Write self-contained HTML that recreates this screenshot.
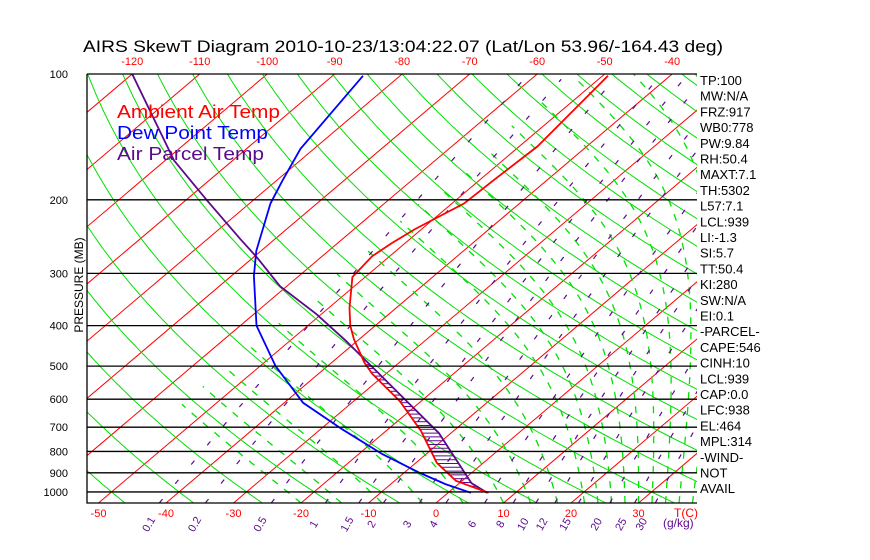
<!DOCTYPE html>
<html><head><meta charset="utf-8"><style>
body{margin:0;background:#fff}
svg{display:block}
text{font-family:"Liberation Sans",sans-serif}
</style></head><body>
<svg id="c" width="870" height="560" viewBox="0 0 870 560" xmlns="http://www.w3.org/2000/svg">
<defs><clipPath id="pc"><rect x="87" y="74" width="610" height="429"/></clipPath></defs>
<text x="83" y="52" font-size="17" textLength="640" lengthAdjust="spacingAndGlyphs">AIRS SkewT Diagram 2010-10-23/13:04:22.07 (Lat/Lon 53.96/-164.43 deg)</text>
<g id="grid" clip-path="url(#pc)"></g>
<g id="marks" clip-path="url(#pc)"></g>
<g id="axes"></g>
<text x="117" y="118" font-size="18" fill="#ff0000" textLength="163" lengthAdjust="spacingAndGlyphs">Ambient Air Temp</text>
<text x="117" y="139" font-size="18" fill="#0000ff" textLength="151" lengthAdjust="spacingAndGlyphs">Dew Point Temp</text>
<text x="117" y="160" font-size="18" fill="#5a0a8c" textLength="147" lengthAdjust="spacingAndGlyphs">Air Parcel Temp</text>
<text transform="translate(83,285) rotate(-90)" font-size="12" text-anchor="middle">PRESSURE (MB)</text>
</svg>
<script>
const pressureTicks=[100,200,300,400,500,600,700,800,900,1000];
const topTempTicks=[-120,-110,-100,-90,-80,-70,-60,-50,-40];
const bottomTempTicks=[-50,-40,-30,-20,-10,0,10,20,30];
const mixRatios=[0.1,0.2,0.5,1,1.5,2,3,4,6,8,10,12,15,20,25,30];
const tempP=[1005,941,852,715,606,522,491,431,400,363,306,273,254,235,204,180,149,101];
const tempT=[6.0,-0.9,-6.9,-14.8,-23.2,-32.0,-35.1,-40.8,-43.7,-46.9,-51.9,-52.6,-52.0,-51.0,-48.2,-47.9,-47.3,-49.2];
const dewP=[1005,958,901,812,708,612,500,400,304,265,204,180,151,101];
const dewT=[3.4,-1.9,-7.6,-16.5,-26.8,-37.2,-47.7,-57.6,-66.7,-70.7,-76.9,-79.1,-82.0,-85.5];
const parcelP=[1005,953,723,606,500,435,375,322,275,248,200,161,100];
const parcelT=[5.8,1.8,-11.8,-22.2,-33.5,-41.7,-50.8,-61,-69.4,-75.2,-87,-98.7,-120];
const statLabels=["TP:100","MW:N/A","FRZ:917","WB0:778","PW:9.84","RH:50.4","MAXT:7.1","TH:5302","L57:7.1","LCL:939","LI:-1.3","SI:5.7","TT:50.4","KI:280","SW:N/A","EI:0.1","-PARCEL-","CAPE:546","CINH:10","LCL:939","CAP:0.0","LFC:938","EL:464","MPL:314","-WIND-","NOT","AVAIL"];
const moistStarts=[-20,-14,-8,-2,4,10,14,18,22,24,26,28,30,32,34,36,38,40];

const NS="http://www.w3.org/2000/svg";
const PBOT=100*Math.exp((503-74)/181.5);
function yP(p){return 74+181.5*Math.log(p/100);}
function xT(T,p){return 436+6.75*T+(503-yP(p))*1.18;}
function mk(tag,attrs,parent){const e=document.createElementNS(NS,tag);for(const k in attrs)e.setAttribute(k,attrs[k]);parent.appendChild(e);return e;}
const grid=document.getElementById('grid'),marks=document.getElementById('marks'),axes=document.getElementById('axes');
function pts(arr){return arr.map(a=>a[0].toFixed(1)+','+a[1].toFixed(1)).join(' ');}

for(let T=-170;T<=50;T+=10){
  const l=mk('line',{x1:xT(T,PBOT),y1:yP(PBOT),x2:xT(T,100),y2:yP(100),stroke:'#ff0000','stroke-width':1},grid);
  
  
}
for(let th=-60;th<=220;th+=10){
  const a=[];
  for(let p=PBOT;p>=99;p-=10){a.push([xT((th+273.15)*Math.pow(p/1000,0.286)-273.15,p),yP(p)]);}
  a.push([xT((th+273.15)*Math.pow(0.1,0.286)-273.15,100),yP(100)]);
  const l=mk('polyline',{points:pts(a),fill:'none',stroke:'#00e000','stroke-width':1},grid);
  
  
}
function es(Tc){return 6.112*Math.exp(17.67*Tc/(Tc+243.5));}
moistStarts.forEach(T0=>{
  let T=T0+273.15,p=PBOT;const a=[[xT(T0,p),yP(p)]];
  while(p>100){
    const dp=-2;const Tc=T-273.15;const e=es(Tc);const rs=0.622*e/(p-e);
    const dTdp=(287*T+2.5e6*rs)/(p*(1004+2.5e6*2.5e6*rs*0.622/(287*T*T)));
    T+=dTdp*dp;p+=dp;
    if(T-273.15<-55)break;
    a.push([xT(T-273.15,p),yP(p)]);
  }
  const l=mk('polyline',{points:pts(a),fill:'none',stroke:'#00e000','stroke-width':1.3,'stroke-dasharray':'7 8'},grid);
  
  
});
function tdFromW(w,p){const e=w/1000*p/(0.622+w/1000);const L=Math.log(e/6.112);return 243.5*L/(17.67-L);}
mixRatios.forEach(w=>{
  const a=[];
  for(let p=PBOT;p>=100;p-=10){a.push([xT(tdFromW(w,p),p),yP(p)]);}
  const l=mk('polyline',{points:pts(a),fill:'none',stroke:'#5a0a8c','stroke-width':1.2,'stroke-dasharray':'5 20'},grid);
  
  
  const x=xT(tdFromW(w,1000),1000)-20;
  const t=mk('text',{x:x,y:528,'font-size':11,fill:'#5a0a8c','text-anchor':'middle',transform:`rotate(-60 ${x} 524)`},axes);
  t.textContent=String(w);
  
  
});
pressureTicks.forEach(p=>{
  const y=yP(p);
  const l=mk('line',{x1:87,y1:y,x2:697,y2:y,stroke:'#000','stroke-width':1.3},axes);
  
  
  const t=mk('text',{x:68,y:y+4,'font-size':11,'text-anchor':'end'},axes);
  t.textContent=String(p);
  
  
});
{
  const f=mk('path',{d:'M87 74V503H697',fill:'none',stroke:'#000','stroke-width':1.3},axes);
  
  
}
topTempTicks.forEach(T=>{
  const t=mk('text',{x:xT(T,100),y:65,'font-size':11,fill:'#ff0000','text-anchor':'middle'},axes);
  t.textContent=String(T);
  
  
});
bottomTempTicks.forEach(T=>{
  const t=mk('text',{x:436+6.75*T,y:517,'font-size':11,fill:'#ff0000','text-anchor':'middle'},axes);
  t.textContent=String(T);
  
  
});
{
  const t=mk('text',{x:674,y:517,'font-size':12,fill:'#ff0000'},axes);t.textContent='T(C)';
  
  
  const g=mk('text',{x:663,y:527,'font-size':12,fill:'#5a0a8c'},axes);g.textContent='(g/kg)';
  
  
}
statLabels.forEach((s,i)=>{
  const t=mk('text',{x:700,y:85+i*15.7,'font-size':13},axes);
  t.textContent=s;
  
  
});
function prof(P,T){return P.map((p,i)=>[xT(T[i],p),yP(p)]);}
const tPts=prof(tempP,tempT),dPts=prof(dewP,dewT),pPts=prof(parcelP,parcelT);
function xAt(ptsArr,y){for(let i=0;i<ptsArr.length-1;i++){const a=ptsArr[i],b=ptsArr[i+1];if((y<=a[1]&&y>=b[1])){const f=(y-a[1])/(b[1]-a[1]);return a[0]+f*(b[0]-a[0]);}}return null;}
for(let y=yP(990);y>yP(480);y-=3.8){
  const xa=xAt(tPts,y),xp=xAt(pPts,y);
  if(xa!==null&&xp!==null&&xp-xa>0.5){
    const l=mk('line',{x1:xa,y1:y,x2:xp,y2:y,stroke:'#5a0a8c','stroke-width':1},marks);
    
    
  }
}
[[pPts,'#5a0a8c','parcel-temp-line'],[dPts,'#0000ff','dew-point-line'],[tPts,'#ff0000','ambient-temp-line']].forEach(([a,c,n])=>{
  const l=mk('polyline',{points:pts(a),fill:'none',stroke:c,'stroke-width':1.8},marks);
  
  
});
</script>
</body></html>
